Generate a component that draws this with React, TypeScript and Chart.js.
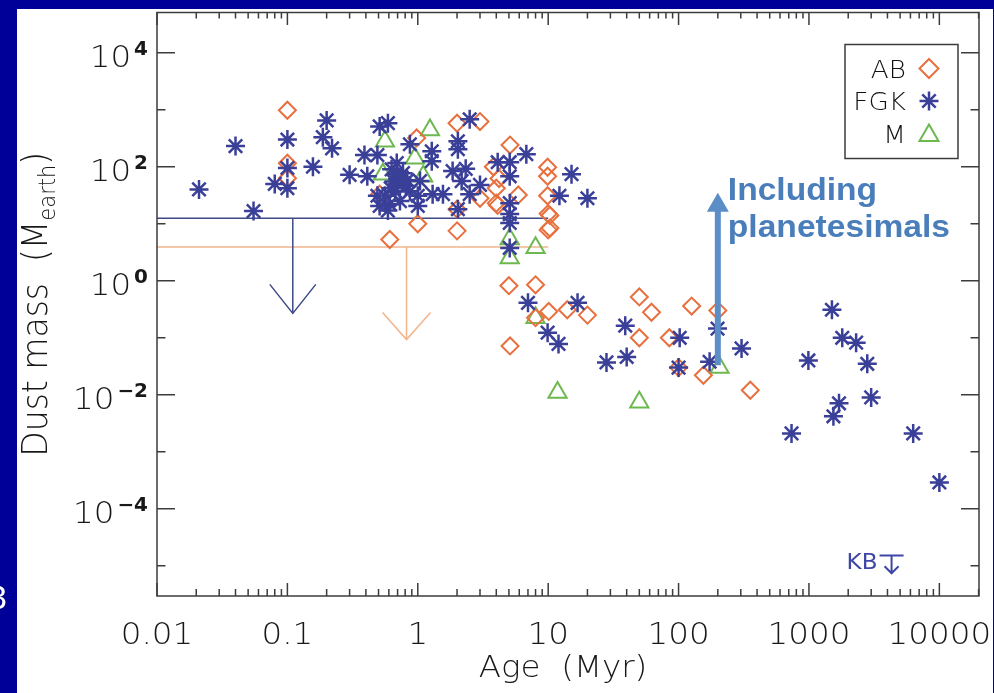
import React, { useEffect, useRef } from 'react';
import { Chart, registerables } from 'chart.js';

Chart.register(...registerables);

// ---------------- data (age in Myr, dust mass in Earth masses) ----------------
const AB_AGE = [0.1, 0.1, 0.1, 0.61, 0.98, 1.0, 0.51, 2.0, 3.0, 2.0, 2.0, 3.0, 3.8, 5.1, 4.0, 4.2, 4.0, 4.1, 5.9, 9.9, 9.9, 9.9, 10, 10.3, 10, 10.3, 5.0, 8.0, 5.1, 8.0, 10.1, 14, 20, 50, 62, 50, 85, 126, 200, 100, 155, 355];
const AB_MASS = [980, 115, 63, 5.3, 320, 10, 33, 580, 620, 18, 7.5, 28, 100, 240, 42, 62, 23, 21, 32, 98, 68, 31, 15, 14, 7.8, 8.4, 0.82, 0.85, 0.072, 0.225, 0.29, 0.31, 0.25, 0.52, 0.28, 0.1, 0.1, 0.36, 0.3, 0.03, 0.022, 0.012];

const FGK_AGE = [0.021, 0.04, 0.055, 0.1, 0.1, 0.08, 0.1, 0.2, 0.187, 0.22, 0.157, 0.3, 0.41, 0.39, 0.49, 0.51, 0.59, 0.69, 0.69, 0.7, 0.67, 0.77, 0.56, 0.51, 0.49, 0.61, 0.7, 0.63, 0.81, 0.59, 0.87, 0.73, 0.87, 1.28, 1.28, 1.04, 1.0, 1.0, 1.3, 1.56, 2.03, 2.03, 1.85, 2.33, 2.17, 3.0, 2.5, 2.03, 2.5, 4.1, 5.07, 6.8, 5.07, 5.07, 5.07, 5.07, 5.07, 15.1, 12.2, 20, 7.0, 9.9, 12, 16.8, 28, 40, 39, 102, 100, 173, 199, 304, 990, 1500, 1800, 2300, 2800, 1700, 1540, 3000, 735, 6300, 10000, 0.66, 0.75, 0.62, 0.83];
const FGK_MASS = [40, 230, 16.7, 300, 95, 50, 42, 650, 330, 210, 100, 72, 68, 160, 160, 510, 580, 116, 74, 61, 37, 77, 31, 20.5, 31, 22, 50, 90, 46, 17, 37, 25, 248, 187, 125, 56, 31, 20.5, 33, 33, 280, 203, 84, 92, 56, 48, 680, 18, 33, 120, 120, 166, 68, 23, 14.8, 10.3, 3.77, 74, 31, 28, 0.41, 0.123, 0.078, 0.41, 0.037, 0.046, 0.163, 0.1, 0.03, 0.038, 0.145, 0.065, 0.04, 0.31, 0.1, 0.082, 0.035, 0.0071, 0.0042, 0.009, 0.0021, 0.0021, 0.00029, 55, 65, 42, 58];

const M_AGE = [0.56, 0.54, 0.95, 1.24, 1.1, 5.07, 5.07, 8.0, 8.0, 11.8, 50, 206];
const M_MASS = [280, 74, 141, 440, 68, 5.4, 2.5, 3.8, 0.225, 0.011, 0.0074, 0.03];

// axis ranges and tick labels
const X_MIN = 0.01;
const X_MAX = 20140;
const Y_MIN = 2.96e-6;
const Y_MAX = 50700;
const X_TICK_VALUES = [0.01, 0.1, 1, 10, 100, 1000, 10000];
const X_TICK_LABELS = ['0.01', '0.1', '1', '10', '100', '1000', '10000'];
const Y_TICK_EXPONENTS = [-4, -2, 0, 2, 4];
const Y_TICK_EXP_LABELS = ['\u22124', '\u22122', '0', '2', '4'];

// upper limits (horizontal level, age of the arrow, arrow tip)
const LIMIT_START_AGE = 0.01;
const LIMIT_END_AGE = 10;
const FGK_LIMIT_LEVEL = 12.5;
const FGK_LIMIT_AGE = 0.11;
const FGK_LIMIT_TIP = 0.268;
const AB_LIMIT_LEVEL = 3.9;
const AB_LIMIT_AGE = 0.82;
const AB_LIMIT_TIP = 0.093;

// "Including planetesimals" arrow
const PLANETESIMAL_AGE = 200;
const PLANETESIMAL_FROM = 0.033;
const PLANETESIMAL_TO = 35;
const PLANETESIMAL_TEXT = ['Including', 'planetesimals'];

// Kuiper belt marker
const KB_AGE = 4300;
const KB_MASS_TOP = 1.52e-5;
const KB_MASS_TIP = 7.4e-6;

const LEGEND_LABELS = ['AB', 'FGK', 'M'];

// ---------------- styles ----------------
const SLIDE_BLUE = '#000099';
const AB_COLOR = '#E8703F';
const FGK_COLOR = '#3A3F97';
const M_COLOR = '#6DB84F';
const AXIS_COLOR = '#3c3c3c';
const TEXT_COLOR = '#181818';
const FGK_LIMIT_COLOR = '#3d4a86';
const AB_LIMIT_COLOR = '#f2b48c';
const PLAN_COLOR = '#4A7EBB';
const PLAN_SHAFT = '#5B8DC6';
const KB_COLOR = '#3f47a6';
const FAM = '"DejaVu Sans", "Liberation Sans", sans-serif';
const TICK_FONT = `300 31px ${FAM}`;
const EXP_FONT = `bold 19px ${FAM}`;
const HS = 1.05;

const pts = (xs: number[], ys: number[]) => xs.map((x, i) => ({ x, y: ys[i] }));

function drawText(ctx: CanvasRenderingContext2D, s: string, x: number, y: number, font: string, align: CanvasTextAlign, baseline: CanvasTextBaseline, color: string, sx = HS) {
  ctx.save();
  ctx.translate(x, y);
  ctx.scale(sx, 1);
  ctx.font = font;
  ctx.textAlign = align;
  ctx.textBaseline = baseline;
  ctx.fillStyle = color;
  ctx.fillText(s, 0, 0);
  ctx.restore();
}

function textWidth(ctx: CanvasRenderingContext2D, s: string, font: string, sx = HS) {
  ctx.save();
  ctx.font = font;
  const w = ctx.measureText(s).width * sx;
  ctx.restore();
  return w;
}

function drawMarker(ctx: CanvasRenderingContext2D, style: string, x: number, y: number, r: number, color: string, lw: number) {
  ctx.save();
  ctx.strokeStyle = color;
  ctx.lineWidth = lw;
  ctx.beginPath();
  if (style === 'rectRot') {
    ctx.moveTo(x - r, y);
    ctx.lineTo(x, y - r);
    ctx.lineTo(x + r, y);
    ctx.lineTo(x, y + r);
    ctx.closePath();
  } else if (style === 'triangle') {
    for (let k = 0; k < 3; k++) {
      const a = (k * 2 * Math.PI) / 3;
      const px = x + Math.sin(a) * r;
      const py = y - Math.cos(a) * r;
      if (k === 0) ctx.moveTo(px, py);
      else ctx.lineTo(px, py);
    }
    ctx.closePath();
  } else {
    ctx.moveTo(x - r, y); ctx.lineTo(x + r, y);
    ctx.moveTo(x, y - r); ctx.lineTo(x, y + r);
    const d = r * Math.SQRT1_2;
    ctx.moveTo(x - d, y - d); ctx.lineTo(x + d, y + d);
    ctx.moveTo(x - d, y + d); ctx.lineTo(x + d, y - d);
  }
  ctx.stroke();
  ctx.restore();
}

function vArrowHead(ctx: CanvasRenderingContext2D, x: number, y: number, hw: number, h: number, color: string, lw: number) {
  ctx.save();
  ctx.strokeStyle = color;
  ctx.lineWidth = lw;
  ctx.beginPath();
  ctx.moveTo(x - hw, y - h);
  ctx.lineTo(x, y);
  ctx.lineTo(x + hw, y - h);
  ctx.stroke();
  ctx.restore();
}

const slidePlugin = {
  id: 'slide',
  beforeDraw(chart: any) {
    const { ctx, width, height } = chart;
    ctx.save();
    ctx.fillStyle = SLIDE_BLUE;
    ctx.fillRect(0, 0, width, height);
    ctx.fillStyle = '#ffffff';
    ctx.fillRect(17, 9, 976, height - 9);
    // fragment of slide text at the left edge
    ctx.fillStyle = '#ffffff';
    ctx.font = '34px "Liberation Sans", sans-serif';
    ctx.textBaseline = 'alphabetic';
    ctx.fillText('3', -12, 609);
    ctx.restore();
  },
  afterDraw(chart: any) {
    const { ctx, chartArea: ca } = chart;
    const xs = chart.scales.x;
    const ys = chart.scales.y;
    ctx.save();

    // frame and ticks
    ctx.strokeStyle = AXIS_COLOR;
    ctx.lineWidth = 1.5;
    ctx.strokeRect(ca.left, ca.top, ca.right - ca.left, ca.bottom - ca.top);
    ctx.beginPath();
    for (let d = -2; d <= 4; d++) {
      for (let k = 1; k <= 9; k++) {
        const v = k * Math.pow(10, d);
        if (v < X_MIN || v > X_MAX) continue;
        const px = xs.getPixelForValue(v);
        const major = k === 1;
        ctx.moveTo(px, ca.bottom);
        ctx.lineTo(px, ca.bottom - (major ? 13 : 7));
        ctx.moveTo(px, ca.top);
        ctx.lineTo(px, ca.top + (major ? 12.5 : 6));
      }
    }
    for (let e = -5; e <= 4; e++) {
      const py = ys.getPixelForValue(Math.pow(10, e));
      const major = Math.abs(e) % 2 === 0;
      const l = major ? 18 : 8.5;
      ctx.moveTo(ca.left, py);
      ctx.lineTo(ca.left + l, py);
      ctx.moveTo(ca.right, py);
      ctx.lineTo(ca.right - l, py);
    }
    ctx.stroke();

    // x tick labels
    X_TICK_VALUES.forEach((v, i) => {
      drawText(ctx, X_TICK_LABELS[i], xs.getPixelForValue(v), ca.bottom + 48, TICK_FONT, 'center', 'alphabetic', TEXT_COLOR);
    });
    // y tick labels 10^n
    const yLabelRight = ca.left - 9;
    Y_TICK_EXPONENTS.forEach((e, i) => {
      const py = ys.getPixelForValue(Math.pow(10, e));
      const exp = Y_TICK_EXP_LABELS[i];
      const w = textWidth(ctx, exp, EXP_FONT);
      drawText(ctx, exp, yLabelRight, py + 2, EXP_FONT, 'right', 'alphabetic', TEXT_COLOR);
      drawText(ctx, '10', yLabelRight - w - 3, py + 14, TICK_FONT, 'right', 'alphabetic', TEXT_COLOR);
    });

    // axis titles
    const cx = (ca.left + ca.right) / 2;
    drawText(ctx, 'Age  (Myr)', cx - 5, ca.bottom + 81, TICK_FONT, 'center', 'alphabetic', TEXT_COLOR);

    const cy = (ca.top + ca.bottom) / 2;
    const mainFont = `300 33px ${FAM}`;
    const subFont = `300 21px ${FAM}`;
    const p1 = 'Dust mass  (M';
    const p2 = 'earth';
    const p3 = ')';
    ctx.save();
    ctx.translate(47, cy);
    ctx.rotate(-Math.PI / 2);
    ctx.scale(1, 1.1);
    ctx.fillStyle = TEXT_COLOR;
    ctx.textBaseline = 'alphabetic';
    ctx.textAlign = 'left';
    ctx.font = mainFont;
    const w1 = ctx.measureText(p1).width;
    const w3 = ctx.measureText(p3).width;
    ctx.font = subFont;
    const w2 = ctx.measureText(p2).width;
    let sx = -(w1 + w2 + w3) / 2;
    ctx.font = mainFont;
    ctx.fillText(p1, sx, 0);
    sx += w1;
    ctx.font = subFont;
    ctx.fillText(p2, sx, 7);
    sx += w2;
    ctx.font = mainFont;
    ctx.fillText(p3, sx, 0);
    ctx.restore();

    // upper-limit arrow heads
    vArrowHead(ctx, xs.getPixelForValue(FGK_LIMIT_AGE), ys.getPixelForValue(FGK_LIMIT_TIP), 23, 29, FGK_LIMIT_COLOR, 1.5);
    vArrowHead(ctx, xs.getPixelForValue(AB_LIMIT_AGE), ys.getPixelForValue(AB_LIMIT_TIP), 24, 27, AB_LIMIT_COLOR, 1.5);

    // planetesimal arrow
    const ax = xs.getPixelForValue(PLANETESIMAL_AGE);
    const ay0 = ys.getPixelForValue(PLANETESIMAL_FROM);
    const ay1 = ys.getPixelForValue(PLANETESIMAL_TO);
    ctx.save();
    ctx.strokeStyle = PLAN_SHAFT;
    ctx.lineWidth = 6;
    ctx.beginPath();
    ctx.moveTo(ax, ay0);
    ctx.lineTo(ax, ay1 + 16);
    ctx.stroke();
    ctx.fillStyle = PLAN_SHAFT;
    ctx.beginPath();
    ctx.moveTo(ax, ay1);
    ctx.lineTo(ax - 11, ay1 + 19);
    ctx.lineTo(ax + 11, ay1 + 19);
    ctx.closePath();
    ctx.fill();
    ctx.restore();
    const planFont = `bold 32px "Liberation Sans", Arial, sans-serif`;
    drawText(ctx, PLANETESIMAL_TEXT[0], ax + 10, ay1 + 7, planFont, 'left', 'alphabetic', PLAN_COLOR);
    drawText(ctx, PLANETESIMAL_TEXT[1], ax + 10, ay1 + 44, planFont, 'left', 'alphabetic', PLAN_COLOR);

    // KB marker
    const kx = xs.getPixelForValue(KB_AGE);
    const kTop = ys.getPixelForValue(KB_MASS_TOP);
    const kTip = ys.getPixelForValue(KB_MASS_TIP);
    ctx.save();
    ctx.strokeStyle = KB_COLOR;
    ctx.lineWidth = 2;
    ctx.beginPath();
    ctx.moveTo(kx - 12, kTop);
    ctx.lineTo(kx + 12, kTop);
    ctx.moveTo(kx, kTop);
    ctx.lineTo(kx, kTip);
    ctx.moveTo(kx - 7, kTip - 7);
    ctx.lineTo(kx, kTip);
    ctx.lineTo(kx + 7, kTip - 7);
    ctx.stroke();
    ctx.restore();
    drawText(ctx, 'KB', kx - 14, kTop + 14, `22px ${FAM}`, 'right', 'alphabetic', KB_COLOR, 1.05);

    // legend
    const lx0 = ca.right - 134;
    const ly0 = ca.top + 32;
    ctx.save();
    ctx.strokeStyle = AXIS_COLOR;
    ctx.lineWidth = 1.5;
    ctx.strokeRect(lx0, ly0, 113, 114);
    ctx.restore();
    const styles = [
      { s: 'rectRot', c: AB_COLOR, r: 9.5, lw: 2 },
      { s: 'star', c: FGK_COLOR, r: 9.5, lw: 2.5 },
      { s: 'triangle', c: M_COLOR, r: 11, lw: 2 },
    ];
    LEGEND_LABELS.forEach((lab, i) => {
      const yy = ly0 + 24 + i * 32.5;
      drawText(ctx, lab, lx0 + 61, yy + 9, `300 25px ${FAM}`, 'right', 'alphabetic', '#111111');
      const st = styles[i];
      drawMarker(ctx, st.s, lx0 + 84, yy + (st.s === 'triangle' ? 2 : 0), st.r, st.c, st.lw);
    });

    ctx.restore();
  },
};

export default function App() {
  const canvasRef = useRef<HTMLCanvasElement | null>(null);

  useEffect(() => {
    if (!canvasRef.current) return;
    const chart = new Chart(canvasRef.current, {
      type: 'scatter',
      data: {
        datasets: [
          {
            label: 'FGK',
            data: pts(FGK_AGE, FGK_MASS),
            pointStyle: 'star',
            pointRadius: 9.5,
            borderColor: FGK_COLOR,
            backgroundColor: 'rgba(0,0,0,0)',
            borderWidth: 2.5,
          },
          {
            label: 'AB',
            data: pts(AB_AGE, AB_MASS),
            pointStyle: 'rectRot',
            pointRadius: 8.5,
            borderColor: AB_COLOR,
            backgroundColor: 'rgba(0,0,0,0)',
            borderWidth: 2,
          },
          {
            label: 'M',
            data: pts(M_AGE, M_MASS),
            pointStyle: 'triangle',
            pointRadius: 10.5,
            borderColor: M_COLOR,
            backgroundColor: 'rgba(0,0,0,0)',
            borderWidth: 2,
          },
          {
            type: 'line',
            label: 'FGK limit',
            data: [
              { x: LIMIT_START_AGE, y: FGK_LIMIT_LEVEL },
              { x: LIMIT_END_AGE, y: FGK_LIMIT_LEVEL },
            ],
            borderColor: FGK_LIMIT_COLOR,
            borderWidth: 1.5,
            pointRadius: 0,
            fill: false,
          },
          {
            type: 'line',
            label: 'FGK limit arrow',
            data: [
              { x: FGK_LIMIT_AGE, y: FGK_LIMIT_LEVEL },
              { x: FGK_LIMIT_AGE, y: FGK_LIMIT_TIP },
            ],
            borderColor: FGK_LIMIT_COLOR,
            borderWidth: 1.5,
            pointRadius: 0,
            fill: false,
          },
          {
            type: 'line',
            label: 'AB limit',
            data: [
              { x: LIMIT_START_AGE, y: AB_LIMIT_LEVEL },
              { x: LIMIT_END_AGE, y: AB_LIMIT_LEVEL },
            ],
            borderColor: AB_LIMIT_COLOR,
            borderWidth: 1.5,
            pointRadius: 0,
            fill: false,
          },
          {
            type: 'line',
            label: 'AB limit arrow',
            data: [
              { x: AB_LIMIT_AGE, y: AB_LIMIT_LEVEL },
              { x: AB_LIMIT_AGE, y: AB_LIMIT_TIP },
            ],
            borderColor: AB_LIMIT_COLOR,
            borderWidth: 1.5,
            pointRadius: 0,
            fill: false,
          },
        ] as any,
      },
      options: {
        responsive: false,
        animation: false,
        events: [],
        layout: { padding: { left: 157, right: 15, top: 11, bottom: 97 } },
        scales: {
          x: { type: 'logarithmic', min: X_MIN, max: X_MAX, display: false },
          y: { type: 'logarithmic', min: Y_MIN, max: Y_MAX, display: false },
        },
        plugins: {
          legend: { display: false },
          tooltip: { enabled: false },
        },
      } as any,
      plugins: [slidePlugin],
    });
    return () => chart.destroy();
  }, []);

  return (
    <div style={{ position: 'fixed', left: 0, top: 0, width: 994, height: 693 }}>
      <canvas ref={canvasRef} width={994} height={693} style={{ display: 'block' }} />
    </div>
  );
}
